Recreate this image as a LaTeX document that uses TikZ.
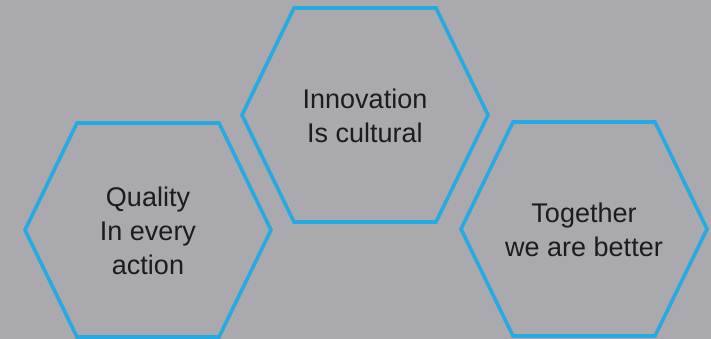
\documentclass[tikz,border=0pt]{standalone}
\usepackage{fontspec}
\setmainfont{Liberation Sans}
\usepackage{xcolor}
\definecolor{bggrey}{RGB}{170,169,173}
\definecolor{hexblue}{RGB}{38,170,226}
\definecolor{textdark}{RGB}{28,28,30}

\begin{document}
\begin{tikzpicture}[x=1pt,y=1pt]
        \tikzstyle{every node}+=[inner sep=0pt, align=center, text=textdark, font=\fontsize{27}{34}\selectfont]
        \tikzstyle{hexline}=[hexblue, line width=3.6pt]
        \fill [bggrey] (0,0) rectangle (711,-339);
        \useasboundingbox (0,0) rectangle (711,-339);
        \draw [hexline] (25,-230) -- (77,-123) -- (219,-123) -- (271,-230) -- (219,-337) -- (77,-337) -- cycle;
        \node (quality) at (148,-231) {Quality\\In every\\action};
        \draw [hexline] (242,-115) -- (294,-8) -- (436,-8) -- (488,-115) -- (436,-222) -- (294,-222) -- cycle;
        \node (innovation) at (365,-116) {Innovation\\Is cultural};
        \draw [hexline] (461,-229) -- (513,-122) -- (655,-122) -- (707,-229) -- (655,-336) -- (513,-336) -- cycle;
        \node (together) at (584,-230) {Together\\we are better};
\end{tikzpicture}
\end{document}
